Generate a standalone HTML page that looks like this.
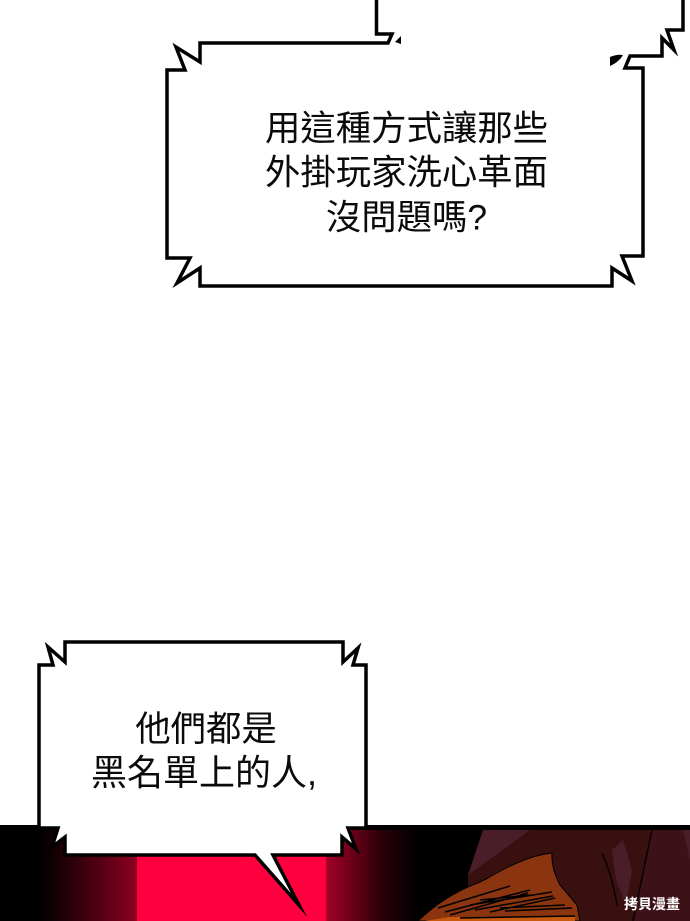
<!DOCTYPE html>
<html><head><meta charset="utf-8"><style>
html,body{margin:0;padding:0;background:#fff}
svg{display:block}
text{font-family:"Liberation Sans","Noto Sans CJK TC",sans-serif;fill:#0a0a0a;text-anchor:middle}
</style></head><body>
<svg width="690" height="921" viewBox="0 0 690 921" xmlns="http://www.w3.org/2000/svg">
<defs>
<linearGradient id="l" x1="0" x2="1" y1="0" y2="0"><stop offset="0" stop-color="#000"/><stop offset=".3" stop-color="#000"/><stop offset=".6" stop-color="#3a000e"/><stop offset="1" stop-color="#8c0022"/></linearGradient>
<linearGradient id="r" x1="0" x2="1" y1="0" y2="0"><stop offset="0" stop-color="#a50028"/><stop offset=".6" stop-color="#2e0009"/><stop offset="1" stop-color="#000"/></linearGradient>
</defs>
<rect width="690" height="921" fill="#fff"/>
<rect x="0" y="825" width="690" height="96" fill="#000"/>
<rect x="0" y="830" width="137" height="91" fill="url(#l)"/>
<rect x="137" y="830" width="189" height="91" fill="#ff003f"/>
<rect x="326" y="830" width="90" height="91" fill="url(#r)"/>
<polygon points="483,830 690,830 690,921 468,921 468,875" fill="#37100f"/>
<polygon points="483,830 530,830 468,875" fill="#4a1e28"/>
<polygon points="652,830 690,830 690,921 634,921" fill="#3c1118"/>
<polygon points="612,850 623,840 632,870 626,905 616,880" fill="#4a1e28"/>
<polygon points="683,830 690,830 690,860" fill="#4a1e28"/>
<path d="M652 830L633 921M602 853Q612 875 617 905" stroke="#000" stroke-width="1.3" fill="none"/>
<path d="M418 921Q445 895 480 882L488 878Q505 868 517 863Q535 855 552 853Q551 868 560 885L577 905L580 921Z" fill="#8a3410" stroke="#000" stroke-width="1"/>
<path d="M425 921H575V917H450Z" fill="#c85a10"/>
<path d="M438 908L510 886M445 912L530 890M450 915L528 893M470 905L552 892M475 910L553 896M490 912L555 898M460 918L575 916M480 900L530 895M500 908L565 905M505 911L572 908" stroke="#000" stroke-width="1.5" fill="none"/>

<g fill="#fff" stroke="#000" stroke-width="3.500" stroke-linejoin="miter" stroke-miterlimit="10">
<path d="M376.500 -5V34H392L388 43H200V62L176 47L185 70H167V258H190L177 283L200 268V286H612V268L632 281L622 256H643V68H625L630 56H662V38L674 50L667 30H683V-5"/>
<path d="M65 642V662L48 647L53 665H39V828H58L52 847L65 837V855H255L299 905L273 855H342V837L356 849L348 828H366V665H353L358 648L343 662V642Z"/>
</g>
<path d="M395 42L401 36L401 44Z" fill="#000"/>
<path d="M610 57Q617 54 623 55Q619 62 610 66Z" fill="#000"/>

<g font-size="35.400">
<text x="406.500" y="140.500">用這種方式讓那些</text>
<text x="406.500" y="184.500">外掛玩家洗心革面</text>
<text x="406.500" y="229.500">沒問題嗎?</text>
<text x="206" y="741">他們都是</text>
<text x="204" y="785" font-size="36">黑名單上的人,</text>
</g>
<text x="652" y="909" font-size="14" font-weight="700" style="fill:#fff">拷貝漫畫</text>
</svg>
</body></html>
